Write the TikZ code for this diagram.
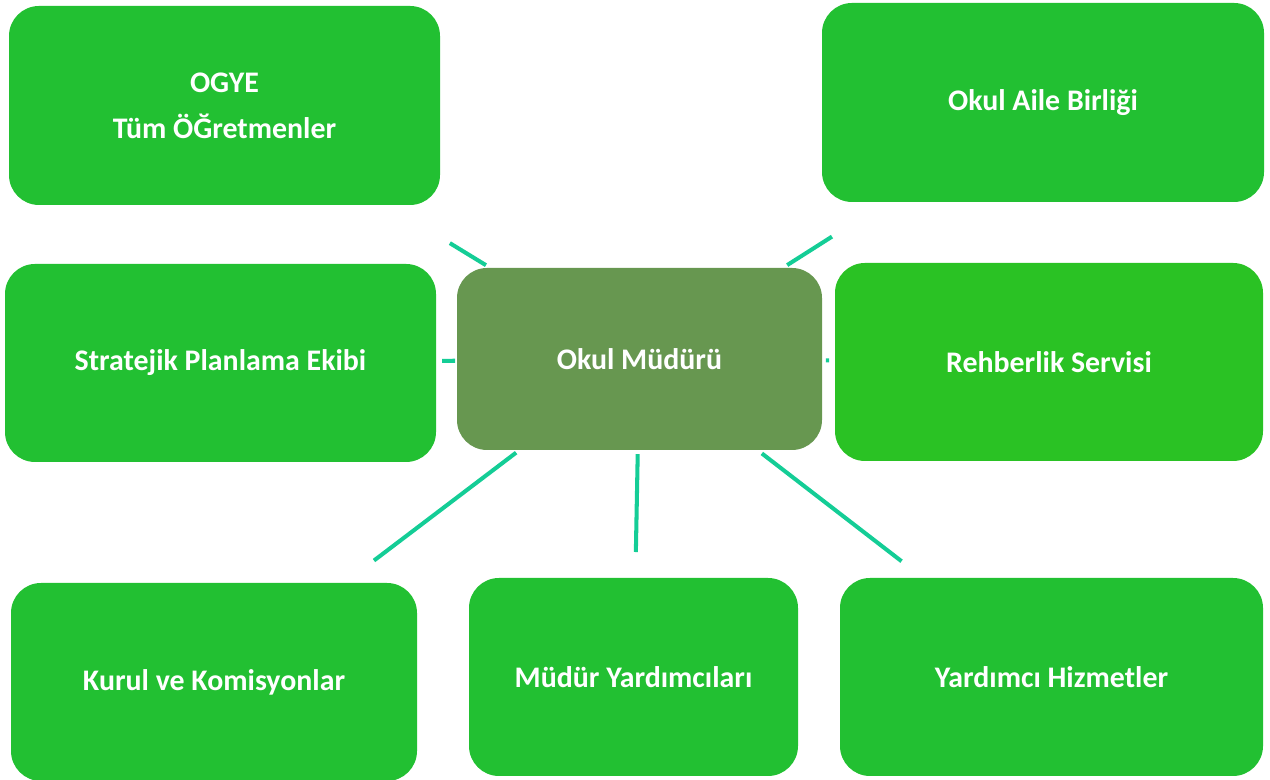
\documentclass[tikz,border=0pt]{standalone}
\usepackage{fontspec}
\setmainfont{Carlito}
\usetikzlibrary{calc}
\definecolor{unitgreen}{HTML}{22C032}
\definecolor{rehbergreen}{HTML}{2AC224}
\definecolor{headgreen}{HTML}{679750}
\definecolor{linkteal}{HTML}{14CD96}

\begin{document}
\begin{tikzpicture}[
            unit/.style={rectangle, rounded corners=0.6cm, fill=unitgreen,
                    text=white, align=center, inner sep=0pt,
                    minimum width=8.6cm, minimum height=3.96cm,
                    font=\bfseries\fontsize{17}{26}\selectfont},
            head/.style={unit, fill=headgreen, minimum width=7.3cm, minimum height=3.64cm},
            link/.style={draw=linkteal, line width=2.3pt}]

        \useasboundingbox (0,0) rectangle (25.4,15.6);

        \node[unit,minimum width=8.62cm,minimum height=3.98cm] (ogye) at (4.49,13.49) {OGYE\\Tüm ÖĞretmenler};
        \node[unit,minimum width=8.84cm,minimum height=3.98cm] (veli) at (20.86,13.55) {Okul Aile Birliği};
        \node[unit,minimum width=8.62cm] (plan) at (4.41,8.34) {Stratejik Planlama Ekibi};
        \node[head] (mudur) at (12.79,8.42) {Okul Müdürü};
        \node[unit,fill=rehbergreen,minimum width=8.56cm] (rehber) at (20.98,8.36) {Rehberlik Servisi};
        \node[unit,minimum width=8.12cm] (kurul) at (4.28,1.96) {Kurul ve Komisyonlar};
        \node[unit,minimum width=6.58cm] (yard) at (12.67,2.06) {Müdür Yardımcıları};
        \node[unit,minimum width=8.46cm] (hizmet) at (21.03,2.06) {Yardımcı Hizmetler};

        % short links around the head
        \draw[link] ($(mudur)!0.370!(ogye)$) -- ($(mudur)!0.457!(ogye)$);
        \draw[link] ($(mudur)!0.366!(veli)$) -- ($(mudur)!0.477!(veli)$);
        \draw[link] ($(mudur)!0.440!(plan)$) -- ($(mudur)!0.471!(plan)$);
        \draw[link] ($(mudur)!0.455!(rehber)$) -- ($(mudur)!0.463!(rehber)$);
        \draw[link] ($(mudur)!0.290!(kurul)$) -- ($(mudur)!0.624!(kurul)$);
        \draw[link] ($(mudur)!0.299!(yard)$) -- ($(mudur)!0.607!(yard)$);
        \draw[link] ($(mudur)!0.297!(hizmet)$) -- ($(mudur)!0.636!(hizmet)$);
    \end{tikzpicture}
\end{document}
